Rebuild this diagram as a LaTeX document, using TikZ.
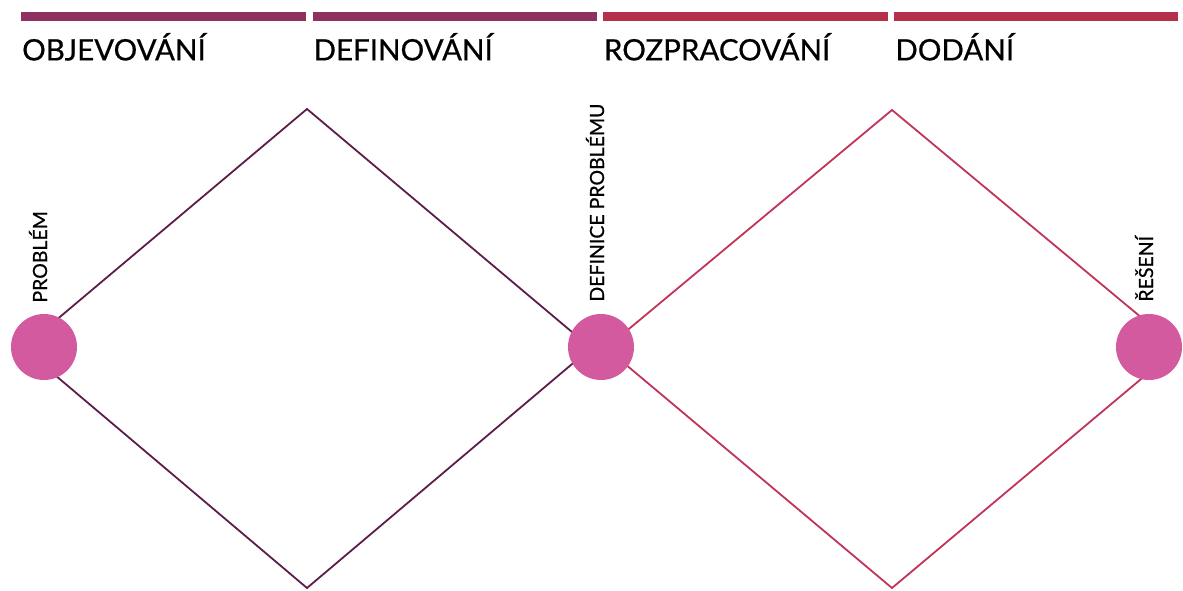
\documentclass[tikz,border=0pt]{standalone}
\usepackage{fontspec}
\setmainfont{Lato}
\newfontfamily\polotucne[FakeBold=0.6]{Lato}
\usetikzlibrary{positioning}

\begin{document}
\begin{tikzpicture}[x=1pt, y=1pt,
  pruh/.style={fill=#1, draw=none, minimum height=9pt, inner sep=0pt, anchor=north west},
  faze/.style={font=\polotucne\fontsize{29.5}{32}\selectfont, anchor=base west, inner sep=0pt},
  bod/.style={circle, fill=ruzova, draw=none, minimum size=66pt, inner sep=0pt},
  popis/.style={font=\polotucne\fontsize{19.5}{22}\selectfont, rotate=90, anchor=base west, inner sep=0pt},
  hrana/.style={line width=1.8pt, line join=miter, #1}]
  % Barvy
  \definecolor{fialova}{RGB}{142,48,96}
  \definecolor{karmin}{RGB}{181,49,75}
  \definecolor{tmava}{RGB}{92,30,72}
  \definecolor{cervena}{RGB}{192,52,88}
  \definecolor{ruzova}{RGB}{211,90,158}

  \useasboundingbox (0,0) rectangle (1183,590);

  % --- Pruhy nahoře ---
  \node[pruh=fialova, minimum width=285pt] (p1) at (21,578) {};
  \node[pruh=fialova, minimum width=284pt, right=6pt of p1.north east, anchor=north west] (p2) {};
  \node[pruh=karmin, minimum width=285pt, right=6pt of p2.north east, anchor=north west] (p3) {};
  \node[pruh=karmin, minimum width=284pt, right=6pt of p3.north east, anchor=north west] (p4) {};

  % --- Názvy fází ---
  \node[faze] (objev) at ([xshift=1pt, yshift=-39pt]p1.south west) {OBJEVOVÁNÍ};
  \node[faze] (defin) at ([xshift=1pt, yshift=-39pt]p2.south west) {DEFINOVÁNÍ};
  \node[faze] (rozpr) at ([xshift=1pt, yshift=-39pt]p3.south west) {ROZPRACOVÁNÍ};
  \node[faze] (dodan) at ([xshift=1pt, yshift=-39pt]p4.south west) {DODÁNÍ};

  % --- Vrcholy diamantů ---
  \coordinate (d1l) at (23,242);
  \coordinate (d1t) at (307,481);
  \coordinate (d1r) at (591,242);
  \coordinate (d1b) at (307,2);
  \coordinate (d2l) at (606,242);
  \coordinate (d2t) at (892,480);
  \coordinate (d2r) at (1178,242);
  \coordinate (d2b) at (892,2);

  % První diamant
  \draw[hrana=tmava] (d1l) -- (d1t) -- (d1r) -- (d1b) -- cycle;
  % Druhý diamant
  \draw[hrana=cervena] (d2l) -- (d2t) -- (d2r) -- (d2b) -- cycle;

  % --- Body ---
  \node[bod] (problem) at (44,243) {};
  \node[bod] (definice) at (601,243) {};
  \node[bod] (reseni) at (1149,243) {};

  % --- Svislé popisky ---
  \node[popis] (lproblem) at ([xshift=3pt, yshift=11pt]problem.north) {PROBLÉM};
  \node[popis] (ldefinice) at ([xshift=3pt, yshift=12pt]definice.north) {DEFINICE PROBLÉMU};
  \node[popis] (lreseni) at ([xshift=4pt, yshift=12pt]reseni.north) {ŘEŠENÍ};

\end{tikzpicture}
\end{document}
